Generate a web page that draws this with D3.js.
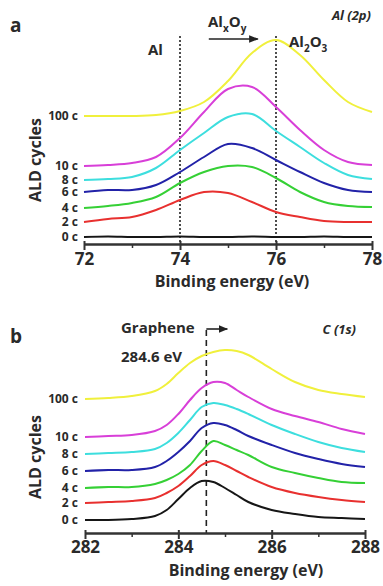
<!DOCTYPE html>
<html>
<head>
<meta charset="utf-8">
<script src="https://cdn.jsdelivr.net/npm/d3@7"></script>
<style>
  html, body { margin: 0; padding: 0; background: #fff; }
  svg text { font-family: "Open Sans", Lato, sans-serif; font-weight: 700; fill: #2a2a2a; }
</style>
</head>
<body>
<svg id="chart" width="383" height="586"></svg>
<script>
// ---- panel a: Al (2p) ----
const energyA = [72, 72.5, 73, 73.5, 74, 74.5, 75, 75.5, 76, 76.5, 77, 77.5, 78];
const al0c   = [7, 7.5, 7, 7, 7.5, 7, 7, 7.5, 7, 7, 7.5, 7, 7];
const al2c   = [22, 25, 27, 34, 44, 52, 51, 42, 32, 27, 23, 22, 22];
const al4c   = [36, 38, 41, 47, 61, 72, 78, 77, 66, 52, 42, 38, 37];
const al6c   = [52, 54, 54, 59, 72, 87, 100, 96, 84, 72, 61, 54, 52];
const al8c   = [64, 65, 67, 76, 94, 111, 127, 130, 113, 97, 81, 69, 65];
const al10c  = [78, 79, 81, 87, 106, 132, 155, 157, 137, 114, 94, 82, 79];
const al100c = [128, 128, 128, 129, 133, 142, 163, 191, 204, 189, 164, 142, 132];
const ticksA = [72, 74, 76, 78];
const minorA = [73, 75, 77];
const refLinesA = [74, 76];

// ---- panel b: C (1s) ----
const energyB = [282, 282.5, 283, 283.5, 283.75, 284, 284.25, 284.5, 284.75, 285, 285.25, 285.5, 286, 286.5, 287, 287.5, 288];
const c0c   = [13, 13, 14, 17, 23, 34, 45, 52, 51, 45, 38, 31, 23, 19, 16, 15, 14];
const c2c   = [30, 31, 32, 35, 40, 47, 57, 68, 72, 68, 62, 56, 46, 40, 36, 33, 31];
const c4c   = [45, 46, 46, 49, 53, 59, 68, 82, 92, 88, 83, 78, 66, 60, 55, 51, 50];
const c6c   = [62, 63, 63, 66, 72, 81, 92, 105, 110, 108, 103, 97, 88, 80, 74, 69, 66];
const c8c   = [79, 80, 81, 84, 90, 100, 113, 126, 130, 128, 124, 119, 108, 99, 91, 85, 81];
const c10c  = [96, 97, 98, 102, 108, 119, 133, 145, 151, 150, 143, 136, 124, 117, 111, 104, 99];
const c100c = [134, 135, 137, 142, 149, 160, 170, 177, 181, 183, 182, 178, 164, 151, 143, 139, 136];
const ticksB = [282, 284, 286, 288];
const minorB = [283, 285, 287];
const graphenePos = 284.6;

const cycleLabels = ["0 c", "2 c", "4 c", "6 c", "8 c", "10 c", "100 c"];
const colors = ["#161616", "#e8302f", "#35d035", "#2222a8", "#3ddede", "#d83fd8", "#f0f03c"];

const svg = d3.select("#chart");

function drawPanel(opt) {
  const x = d3.scaleLinear().domain(opt.xDomain).range(opt.xRange);
  const y = d3.scaleLinear().domain([0, 210]).range([opt.axisY, opt.axisY - 210]);
  const g = svg.append("g");

  // reference lines
  opt.refs.forEach(r => {
    g.append("line")
      .attr("x1", x(r)).attr("x2", x(r))
      .attr("y1", opt.refTop).attr("y2", opt.axisY)
      .attr("stroke", "#222")
      .attr("stroke-width", 1.6)
      .attr("stroke-dasharray", opt.dash);
  });

  const line = d3.line()
    .x((d, i) => x(opt.energy[i]))
    .y(d => y(d))
    .curve(d3.curveCatmullRom.alpha(0.5));

  opt.series.forEach((s, i) => {
    g.append("path")
      .attr("d", line(s))
      .attr("fill", "none")
      .attr("stroke", colors[i])
      .attr("stroke-width", 2);
    g.append("text")
      .attr("x", 78)
      .attr("y", y(s[0]) + 4)
      .attr("text-anchor", "end")
      .style("font-size", "12px")
      .text(cycleLabels[i]);
  });

  // x axis
  const ax = g.append("g")
    .attr("transform", "translate(0," + opt.axisY + ")")
    .call(d3.axisBottom(x).tickValues(opt.ticks).tickSizeInner(6).tickSizeOuter(0).tickFormat(d3.format("d")));
  ax.select(".domain").attr("stroke", "#333").attr("stroke-width", 2.5);
  ax.selectAll(".tick line").attr("stroke", "#333").attr("stroke-width", 2).attr("y1", -3);
  ax.selectAll(".tick text")
    .attr("y", opt.tickLabelY).attr("dy", 0)
    .style("font-size", "17px").style("font-family", "'Open Sans'").style("font-weight", 700)
    .attr("fill", "#2a2a2a");

  g.append("g")
    .attr("transform", "translate(0," + opt.axisY + ")")
    .call(d3.axisBottom(x).tickValues(opt.minor).tickSizeInner(4).tickSizeOuter(0).tickFormat(""))
    .call(a => a.select(".domain").remove())
    .selectAll(".tick line").attr("stroke", "#333").attr("stroke-width", 1.5);

  g.append("text")
    .attr("x", opt.titleX).attr("y", opt.titleY)
    .attr("text-anchor", "middle")
    .style("font-size", "16px")
    .text("Binding energy (eV)");

  g.append("text")
    .attr("transform", "translate(41," + opt.yTitleMid + ") rotate(-90)")
    .attr("text-anchor", "middle")
    .style("font-size", "16px")
    .text("ALD cycles");

  g.append("text")
    .attr("x", 10).attr("y", opt.letterY)
    .style("font-size", "19px")
    .text(opt.letter);

  return { g, x, y };
}

// arrow head
svg.append("defs").append("marker")
  .attr("id", "arrow")
  .attr("viewBox", "0 0 10 10")
  .attr("refX", 9).attr("refY", 5)
  .attr("markerWidth", 6).attr("markerHeight", 6)
  .attr("orient", "auto")
  .append("path").attr("d", "M0,1 L10,5 L0,9 Z").attr("fill", "#222");

const A = drawPanel({
  xDomain: [72, 78], xRange: [84, 372], axisY: 244,
  energy: energyA,
  series: [al0c, al2c, al4c, al6c, al8c, al10c, al100c],
  ticks: ticksA, minor: minorA, refs: refLinesA, refTop: 36, dash: "2,2",
  tickLabelY: 21, titleX: 232, titleY: 287, yTitleMid: 160,
  letter: "a", letterY: 32
});

A.g.append("text").attr("x", 148).attr("y", 55).style("font-size", "15px").text("Al");
const axoy = A.g.append("text").attr("x", 208).attr("y", 27).style("font-size", "15px");
axoy.append("tspan").text("Al");
axoy.append("tspan").attr("dy", 5).style("font-size", "10px").text("x");
axoy.append("tspan").attr("dy", -5).text("O");
axoy.append("tspan").attr("dy", 5).style("font-size", "10px").text("y");
A.g.append("line")
  .attr("x1", A.x(74.6)).attr("x2", A.x(75.62))
  .attr("y1", 39).attr("y2", 39)
  .attr("stroke", "#222").attr("stroke-width", 1.6)
  .attr("marker-end", "url(#arrow)");
const al2o3 = A.g.append("text").attr("x", 289).attr("y", 47).style("font-size", "15px");
al2o3.append("tspan").text("Al");
al2o3.append("tspan").attr("dy", 5).style("font-size", "10px").text("2");
al2o3.append("tspan").attr("dy", -5).text("O");
al2o3.append("tspan").attr("dy", 5).style("font-size", "10px").text("3");
A.g.append("text").attr("x", 371).attr("y", 20)
  .attr("text-anchor", "end").style("font-size", "13px").style("font-style", "italic")
  .text("Al (2p)");

const B = drawPanel({
  xDomain: [282, 288], xRange: [85, 365], axisY: 533,
  energy: energyB,
  series: [c0c, c2c, c4c, c6c, c8c, c10c, c100c],
  ticks: ticksB, minor: minorB, refs: [graphenePos], refTop: 330, dash: "6,4",
  tickLabelY: 20, titleX: 246, titleY: 576, yTitleMid: 457,
  letter: "b", letterY: 343
});

B.g.append("text").attr("x", 121).attr("y", 333).style("font-size", "15px").text("Graphene");
B.g.append("text").attr("x", 121).attr("y", 362).style("font-size", "15px").text("284.6 eV");
B.g.append("line")
  .attr("x1", B.x(graphenePos)).attr("x2", B.x(285.05))
  .attr("y1", 329).attr("y2", 329)
  .attr("stroke", "#222").attr("stroke-width", 1.6)
  .attr("marker-end", "url(#arrow)");
B.g.append("text").attr("x", 356).attr("y", 334)
  .attr("text-anchor", "end").style("font-size", "13px").style("font-style", "italic")
  .text("C (1s)");
</script>
</body>
</html>
